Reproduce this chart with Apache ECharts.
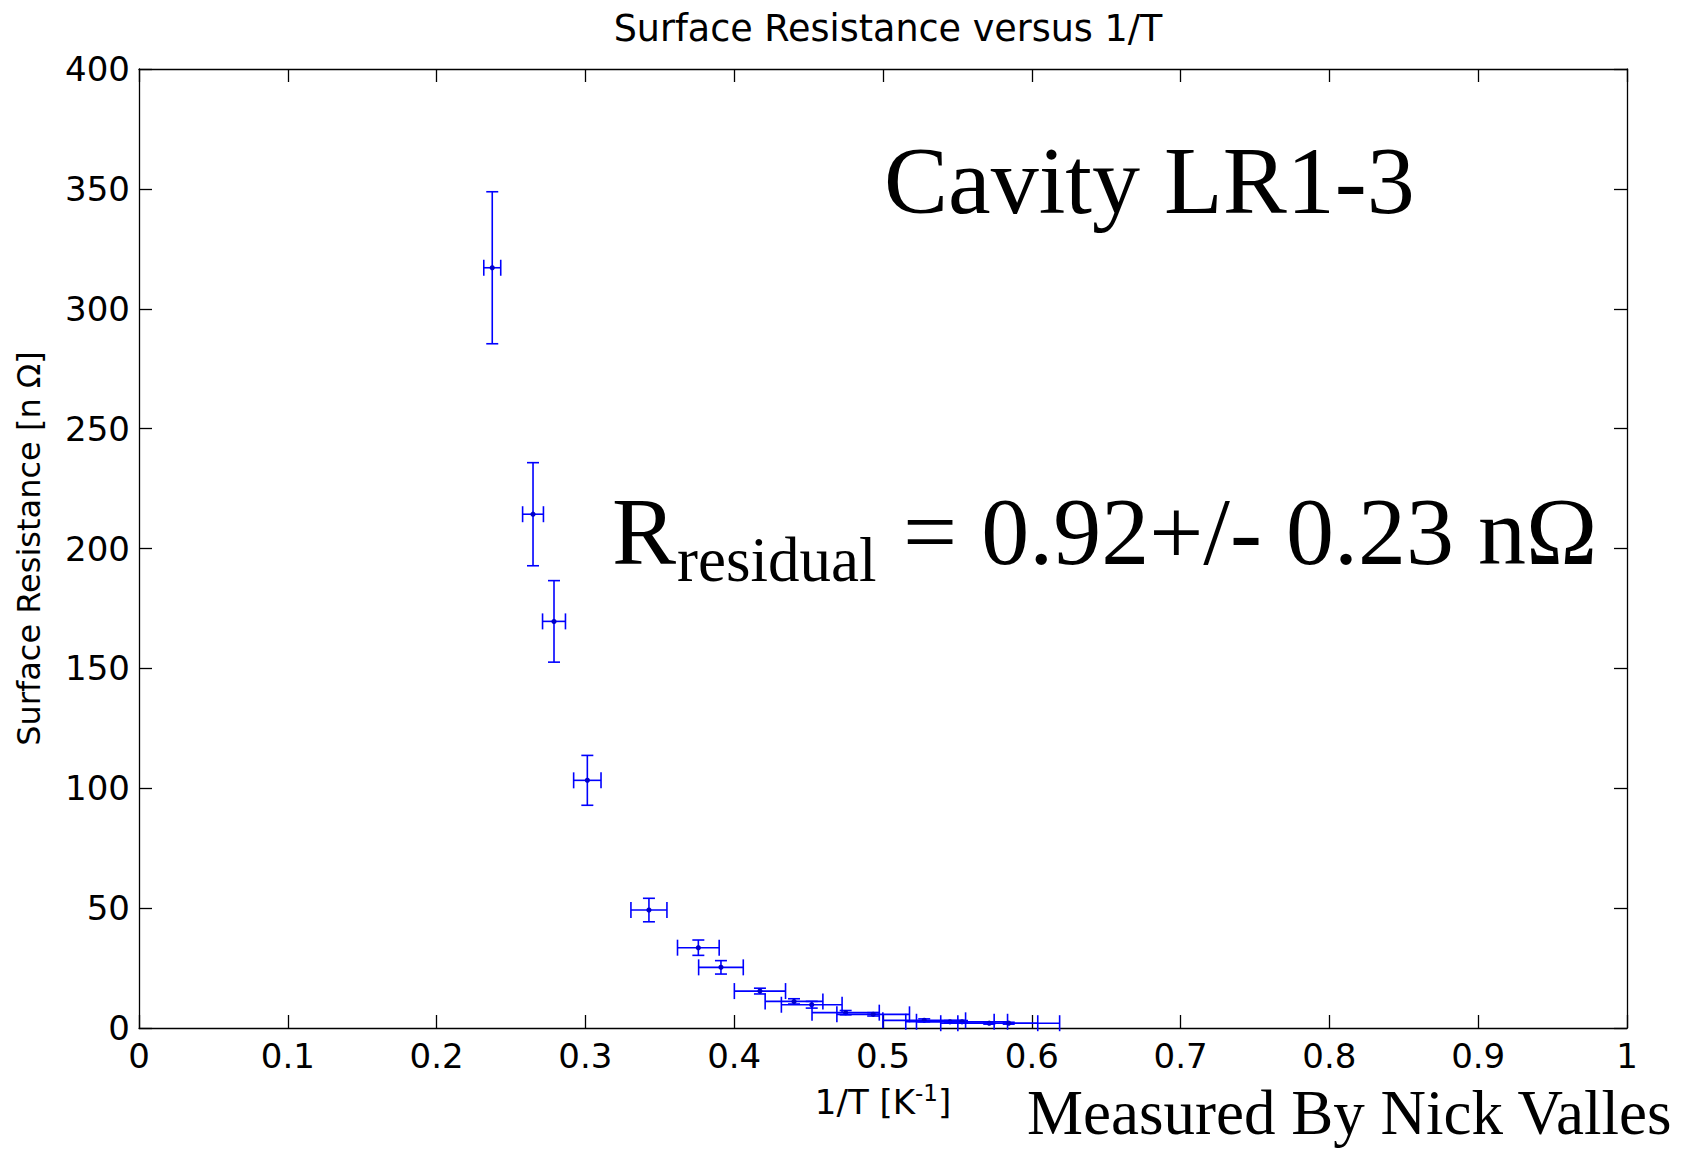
<!DOCTYPE html>
<html>
<head>
<meta charset="utf-8">
<script src="https://cdn.jsdelivr.net/npm/echarts@6/dist/echarts.min.js"></script>
<style>
html,body{margin:0;padding:0;background:#fff;}
#chart{width:1690px;height:1150px;}
</style>
</head>
<body>
<div id="chart"></div>
<script>
// ---- data ----
const xVals = [0.2374, 0.2648, 0.2789, 0.3013, 0.3427, 0.3759, 0.3911, 0.4173, 0.4402, 0.4521, 0.4749, 0.4934, 0.5277, 0.5450, 0.5531, 0.5714, 0.5845];
const yVals = [317.1, 214.3, 169.6, 103.3, 49.2, 33.5, 25.3, 15.4, 11.1, 9.7, 6.4, 5.7, 3.2, 2.6, 2.6, 2.0, 2.0];
const xErr  = [0.0057, 0.0070, 0.0077, 0.0092, 0.0121, 0.0140, 0.0150, 0.0172, 0.0194, 0.0204, 0.0226, 0.0244, 0.0278, 0.0297, 0.0306, 0.0326, 0.0342];
const yErr  = [31.7, 21.5, 17.0, 10.4, 4.9, 3.2, 2.8, 1.2, 1.1, 1.4, 0.9, 0.7, 0.6, 0.5, 0.5, 0.4, 0.4];

const titleText = 'Surface Resistance versus 1/T';
const yAxisTitle = 'Surface Resistance [n \u03A9]';
const cavityText = 'Cavity LR1-3';
const residualMain = 'R';
const residualSub = 'residual';
const residualRest = '= 0.92+/- 0.23 n\u03A9';
const measuredText = 'Measured By Nick Valles';

const BLUE = '#0000ff';
const SANS = '"DejaVu Sans", sans-serif';
const SERIF = '"Liberation Serif", "Times New Roman", serif';

const chart = echarts.init(document.getElementById('chart'), null, {renderer: 'svg'});

const data = xVals.map((x, i) => [x, yVals[i], xErr[i], yErr[i]]);

function renderItem(params, api) {
  const x = api.value(0), y = api.value(1), ex = api.value(2), ey = api.value(3);
  const c = api.coord([x, y]);
  const l = api.coord([x - ex, y]);
  const r = api.coord([x + ex, y]);
  const t = api.coord([x, y + ey]);
  const b = api.coord([x, y - ey]);
  const cw = 6, ch = 8;
  const st = {stroke: BLUE, lineWidth: 1.6, fill: null};
  const line = (x1, y1, x2, y2) => ({type: 'line', shape: {x1, y1, x2, y2}, style: st});
  return {
    type: 'group',
    children: [
      line(l[0], c[1], r[0], c[1]),
      line(l[0], c[1] - ch, l[0], c[1] + ch),
      line(r[0], c[1] - ch, r[0], c[1] + ch),
      line(c[0], t[1], c[0], b[1]),
      line(c[0] - cw, t[1], c[0] + cw, t[1]),
      line(c[0] - cw, b[1], c[0] + cw, b[1]),
      {type: 'circle', shape: {cx: c[0], cy: c[1], r: 2.6}, style: {fill: '#0000cc'}}
    ]
  };
}

const axisLineStyle = {show: true, onZero: false, lineStyle: {color: '#000', width: 1.3}};
const tickStyle = {show: true, inside: true, length: 13, lineStyle: {color: '#000', width: 1.3}};

const option = {
  backgroundColor: '#fff',
  animation: false,
  title: {
    text: titleText,
    left: 883, top: 5, textAlign: 'center',
    textStyle: {fontFamily: SANS, fontSize: 36.5, fontWeight: 'normal', color: '#000'}
  },
  grid: {left: 139, top: 69, right: 63, bottom: 122, containLabel: false},
  xAxis: [{
    type: 'value', min: 0, max: 1, interval: 0.1, position: 'bottom',
    name: '1/T [K{sup|-1}]', nameLocation: 'middle', nameGap: 53,
    nameTextStyle: {fontFamily: SANS, fontSize: 34, color: '#000',
      rich: {sup: {fontFamily: SANS, fontSize: 23, color: '#000', verticalAlign: 'top', padding: [0, 0, 18, 0]}}},
    axisLine: axisLineStyle, axisTick: tickStyle, splitLine: {show: false},
    axisLabel: {fontFamily: SANS, fontSize: 34, color: '#000', margin: 11}
  }, {
    type: 'value', min: 0, max: 1, interval: 0.1, position: 'top',
    axisLine: axisLineStyle, axisTick: tickStyle, splitLine: {show: false},
    axisLabel: {show: false}
  }],
  yAxis: [{
    type: 'value', min: 0, max: 400, interval: 50, position: 'left',
    name: yAxisTitle, nameLocation: 'middle', nameGap: 94, nameRotate: 90,
    nameTextStyle: {fontFamily: SANS, fontSize: 32, color: '#000'},
    axisLine: axisLineStyle, axisTick: tickStyle, splitLine: {show: false},
    axisLabel: {fontFamily: SANS, fontSize: 34, color: '#000', margin: 9}
  }, {
    type: 'value', min: 0, max: 400, interval: 50, position: 'right',
    axisLine: axisLineStyle, axisTick: tickStyle, splitLine: {show: false},
    axisLabel: {show: false}
  }],
  series: [{
    type: 'custom',
    xAxisIndex: 0, yAxisIndex: 0,
    renderItem: renderItem,
    data: data,
    clip: false,
    z: 3
  }],
  graphic: [
    {type: 'text', left: 884, top: 180 - 48, style: {text: cavityText, font: '96px ' + SERIF, fill: '#000'}},
    {type: 'text', x: 612, y: 531, style: {text: residualMain, font: '96px ' + SERIF, fill: '#000', verticalAlign: 'middle', align: 'left'}},
    {type: 'text', x: 677, y: 560, style: {text: residualSub, font: '63px ' + SERIF, fill: '#000', verticalAlign: 'middle', align: 'left'}},
    {type: 'text', x: 903, y: 531, style: {text: residualRest, font: '96px ' + SERIF, fill: '#000', verticalAlign: 'middle', align: 'left'}},
    {type: 'text', x: 1027, y: 1113, style: {text: measuredText, font: '63px ' + SERIF, fill: '#000', verticalAlign: 'middle', align: 'left'}}
  ]
};
chart.setOption(option);
</script>
</body>
</html>
